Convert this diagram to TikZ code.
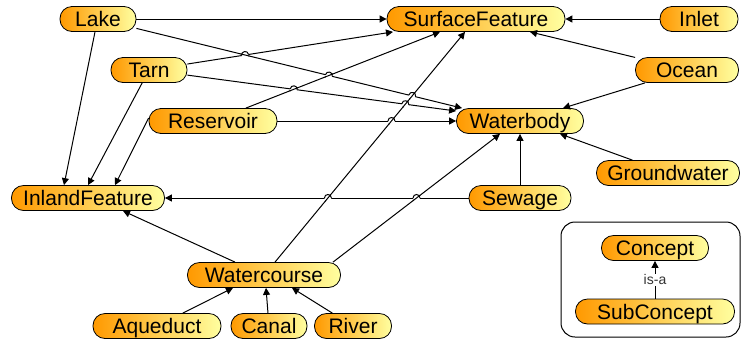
\documentclass[tikz,border=0pt]{standalone}
\usepackage{fontspec}
\setmainfont{Liberation Sans}
\usetikzlibrary{calc}
\usetikzlibrary{positioning}
\usetikzlibrary{arrows.meta}
\usetikzlibrary{intersections}
\definecolor{conceptdark}{RGB}{255,153,0}
\definecolor{conceptlight}{RGB}{255,255,160}
\tikzset{
  concept/.style = {draw=black, line width=0.8pt, rounded corners=12pt,
    left color=conceptdark, right color=conceptlight, minimum height=25pt,
    inner xsep=2pt, inner ysep=0pt, text height=17pt, text depth=2pt,
    font=\fontsize{21}{24}\selectfont},          % concept node
  isa/.style = {-{Triangle[length=7pt,width=7pt]}, line width=1pt}, % is-a edge
  legendbox/.style = {draw=black, line width=1pt, rounded corners=14pt}
}
% small jump of one line over another at a crossing
\newcommand{\linehop}[5]{%
  \fill[white] (#1) circle (3.5pt);
  \draw[line width=1pt] ($(#1)!4.5pt!(#4)$) -- ($(#1)!4.5pt!(#5)$);
  \draw[line width=1pt] ($(#1)!3.5pt!(#2)$) to[bend left=90, looseness=1.7] ($(#1)!3.5pt!(#3)$);
}

\begin{document}
\begin{tikzpicture}[x=1pt,y=-1pt]
  \useasboundingbox (0,0) rectangle (741,341);

  % concepts
  \node [concept, minimum width=76pt]  (lake)   at (98,19)    {Lake};
  \node [concept, minimum width=178pt] (surf)   at (476,19)   {SurfaceFeature};
  \node [concept, minimum width=78pt]  (inlet)  at (699,19)   {Inlet};
  \node [concept, minimum width=76pt]  (tarn)   at (149,70)   {Tarn};
  \node [concept, minimum width=103pt] (ocean)  at (687,70)   {Ocean};
  \node [concept, minimum width=128pt] (res)    at (213,121)  {Reservoir};
  \node [concept, minimum width=127pt] (wb)     at (520,121)  {Waterbody};
  \node [concept, minimum width=143pt] (gw)     at (668,173)  {Groundwater};
  \node [concept, minimum width=153pt] (inland) at (88,198)   {InlandFeature};
  \node [concept, minimum width=102pt] (sew)    at (520,198)  {Sewage};
  \node [concept, minimum width=153pt] (wc)     at (264,275)  {Watercourse};
  \node [concept, minimum width=128pt] (aq)     at (157,326)  {Aqueduct};
  \node [concept, minimum width=76pt]  (canal)  at (269,326)  {Canal};
  \node [concept, minimum width=77pt]  (river)  at (353,326)  {River};

  % legend
  \draw [legendbox] (561,222) rectangle (740,337);
  \node [concept, minimum width=107pt] (con) at (655,248)   {Concept};
  \node [concept, minimum width=159pt] (sub) at (655,311.5) {SubConcept};
  \draw [isa] (sub) -- node [fill=white, inner sep=1pt, text=black!80,
    font=\fontsize{14}{16}\selectfont] {is-a} (con);

  % edge ends
  \coordinate (sf1) at ([xshift=-83pt]surf.south);
  \coordinate (sf2) at ([xshift=-36pt]surf.south);
  \coordinate (sf3) at ([xshift=-11pt]surf.south);
  \coordinate (wb1) at ([xshift=-58pt]wb.north);
  \coordinate (wb2) at ([yshift=10pt]wb.west);
  \coordinate (wb3) at ([xshift=-20pt]wb.south);
  \coordinate (wc0) at ([xshift=11pt]wc.north);
  \coordinate (wc1) at ([xshift=69pt]wc.north);

  % is-a edges
  \draw [isa] (lake) -- (surf);
  \draw [isa, name path=lakewb] (lake) -- (wb1);
  \draw [isa] ([xshift=-3pt]lake.south) -- ([xshift=-24pt]inland.north);
  \draw [isa, name path=tarnsf] (tarn) -- (sf1);
  \draw [isa, name path=tarnwb] (tarn) -- (wb2);
  \draw [isa] (tarn) -- (inland.north);
  \draw [isa, name path=ressf] (res) -- (sf2);
  \draw [isa, name path=reswb] (res) -- (wb);
  \draw [isa] ([yshift=3pt]res.west) -- ([xshift=27pt]inland.north);
  \draw [isa, name path=wcsf] (wc0) -- (sf3);
  \draw [isa, name path=wcwb] (wc1) -- (wb3);
  \draw [isa] ([xshift=-29pt]wc.north) -- ([xshift=35pt]inland.south);
  \draw [isa, name path=sewin] (sew) -- (inland);
  \draw [isa] (sew) -- (wb);
  \draw [isa] (inlet) -- (surf);
  \draw [isa] (ocean) -- ([xshift=54pt]surf.south);
  \draw [isa] (ocean) -- ([xshift=43pt]wb.north);
  \draw [isa] (gw) -- ([xshift=40pt]wb.south);
  \draw [isa] (aq) -- ([xshift=-31pt]wc.south);
  \draw [isa] (canal) -- ([xshift=2pt]wc.south);
  \draw [isa] (river) -- ([xshift=28pt]wc.south);

  % crossings
  \path [name intersections={of=tarnsf and lakewb, by=h1}];
  \path [name intersections={of=lakewb and ressf, by=h2}];
  \path [name intersections={of=tarnwb and ressf, by=h3}];
  \path [name intersections={of=lakewb and wcsf, by=h4}];
  \path [name intersections={of=tarnwb and wcsf, by=h5}];
  \path [name intersections={of=reswb and wcsf, by=h6}];
  \path [name intersections={of=sewin and wcsf, by=h7}];
  \path [name intersections={of=sewin and wcwb, by=h8}];
  \linehop{h1}{tarn}{sf1}{lake}{wb1}
  \linehop{h2}{lake}{wb1}{res}{sf2}
  \linehop{h3}{tarn}{wb2}{res}{sf2}
  \linehop{h4}{lake}{wb1}{wc0}{sf3}
  \linehop{h5}{tarn}{wb2}{wc0}{sf3}
  \linehop{h6}{res}{wb}{wc0}{sf3}
  \linehop{h7}{inland}{sew}{wc0}{sf3}
  \linehop{h8}{inland}{sew}{wc1}{wb3}
\end{tikzpicture}
\end{document}
